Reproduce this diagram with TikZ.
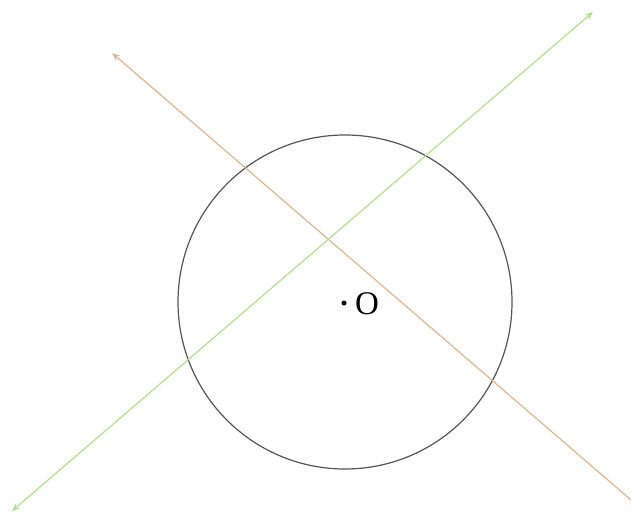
\documentclass[tikz,border=0pt]{standalone}
\usepackage{fontspec}
\setmainfont{Liberation Serif}
\usetikzlibrary{arrows.meta}
\definecolor{tanline}{RGB}{220,182,145}
\definecolor{greenline}{RGB}{182,222,145}
\definecolor{circgray}{RGB}{85,85,85}
\tikzset{
  lineA/.style={draw=tanline, line width=1.2pt, -{Stealth[length=8pt,width=6.5pt]}},
  lineB/.style={draw=greenline, line width=1.2pt, {Stealth[length=8pt,width=6.5pt]}-{Stealth[length=8pt,width=6.5pt]}},
}
\begin{document}
\begin{tikzpicture}[x=1pt,y=-1pt]
\useasboundingbox (0,0) rectangle (631,516);
\coordinate (a1) at (112,53);
\coordinate (a2) at (645,512);
\coordinate (b1) at (12,511);
\coordinate (b2) at (593,12);
\coordinate (O) at (345,302);
\draw[circgray, line width=1.2pt] (O) circle[radius=167];
\draw[lineA] (a2) -- (a1);
\draw[lineB] (b1) -- (b2);
\fill (344,303) circle[radius=2.5];
\node[anchor=west, font=\fontsize{33}{36}\selectfont, inner sep=0pt] (lbl) at (355,304) {O};
\end{tikzpicture}
\end{document}
